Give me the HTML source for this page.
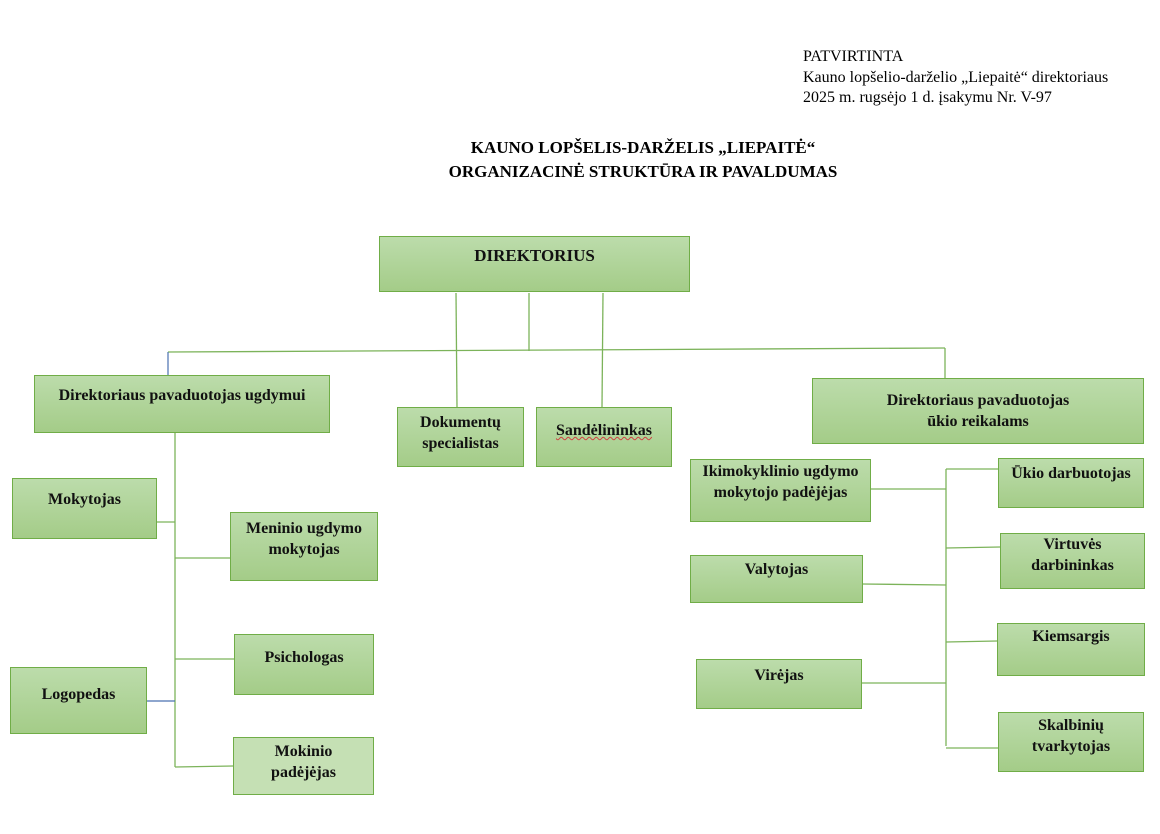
<!DOCTYPE html>
<html><head><meta charset="utf-8">
<style>
body{margin:0;width:1160px;height:834px;background:#fff;position:relative;overflow:hidden;font-family:"Liberation Serif",serif;}
.t{position:absolute;color:#000;font-size:16px;line-height:20.5px;}
.b{position:absolute;box-sizing:border-box;border:1px solid #70ad47;background:linear-gradient(#bcdcab,#a4cc88);text-align:center;font-weight:bold;font-size:16px;line-height:21px;color:#111;white-space:nowrap;}
svg{position:absolute;left:0;top:0;}
</style></head><body>
<div class="t" style="left:803px;top:47px;">PATVIRTINTA<br>Kauno lopšelio-darželio „Liepaitė“ direktoriaus<br>2025 m. rugsėjo 1 d. įsakymu Nr. V-97</div>
<div class="t" style="left:0;width:1286px;top:136px;text-align:center;font-weight:bold;font-size:17px;line-height:24px;">KAUNO LOPŠELIS-DARŽELIS „LIEPAITĖ“<br>ORGANIZACINĖ STRUKTŪRA IR PAVALDUMAS</div>
<svg width="1160" height="834">
<g stroke="#7cb35a" stroke-width="1.3" fill="none">
<line x1="168" y1="352" x2="945" y2="348"/>
<line x1="456" y1="293" x2="457" y2="407"/>
<line x1="529" y1="293" x2="529" y2="351"/>
<line x1="603" y1="293" x2="602" y2="407"/>
<line x1="945" y1="348" x2="945" y2="378"/>
<line x1="175" y1="423" x2="175" y2="767"/>
<line x1="156" y1="522" x2="175" y2="522"/>
<line x1="175" y1="558" x2="230" y2="558"/>
<line x1="175" y1="659" x2="234" y2="659"/>
<line x1="175" y1="767" x2="233" y2="766"/>
<line x1="946" y1="469" x2="946" y2="746"/>
<line x1="870" y1="489" x2="946" y2="489"/>
<line x1="862" y1="584" x2="946" y2="585"/>
<line x1="861" y1="683" x2="946" y2="683"/>
<line x1="946" y1="469" x2="998" y2="469"/>
<line x1="946" y1="548" x2="1000" y2="547"/>
<line x1="946" y1="642" x2="997" y2="641"/>
<line x1="946" y1="748" x2="998" y2="748"/>
</g>
<g stroke="#4a70b0" stroke-width="1.2"><line x1="168" y1="352" x2="168" y2="375"/><line x1="146" y1="701" x2="175" y2="701"/></g>
</svg>
<div class="b" style="left:379px;top:236px;width:311px;height:56px;padding-top:8px;font-size:17px;">DIREKTORIUS</div>
<div class="b" style="left:34px;top:375px;width:296px;height:58px;padding-top:9px;">Direktoriaus pavaduotojas ugdymui</div>
<div class="b" style="left:397px;top:407px;width:127px;height:60px;padding-top:4px;">Dokumentų<br>specialistas</div>
<div class="b" style="left:536px;top:407px;width:136px;height:60px;padding-top:12px;"><span style="text-decoration:underline wavy #d04040;text-decoration-thickness:1px;">Sandėlininkas</span></div>
<div class="b" style="left:812px;top:378px;width:332px;height:66px;padding-top:11px;">Direktoriaus pavaduotojas<br>ūkio reikalams</div>
<div class="b" style="left:12px;top:478px;width:145px;height:61px;padding-top:10px;">Mokytojas</div>
<div class="b" style="left:230px;top:512px;width:148px;height:69px;padding-top:5px;">Meninio ugdymo<br>mokytojas</div>
<div class="b" style="left:234px;top:634px;width:140px;height:61px;padding-top:12px;">Psichologas</div>
<div class="b" style="left:10px;top:667px;width:137px;height:67px;padding-top:16px;">Logopedas</div>
<div class="b" style="left:233px;top:737px;width:141px;height:58px;padding-top:3px;background:#c5e0b4;">Mokinio<br>padėjėjas</div>
<div class="b" style="left:690px;top:459px;width:181px;height:63px;padding-top:1px;">Ikimokyklinio ugdymo<br>mokytojo padėjėjas</div>
<div class="b" style="left:690px;top:555px;width:173px;height:48px;padding-top:3px;">Valytojas</div>
<div class="b" style="left:696px;top:659px;width:166px;height:50px;padding-top:5px;">Virėjas</div>
<div class="b" style="left:998px;top:458px;width:146px;height:50px;padding-top:4px;">Ūkio darbuotojas</div>
<div class="b" style="left:1000px;top:533px;width:145px;height:56px;padding-top:0px;">Virtuvės<br>darbininkas</div>
<div class="b" style="left:997px;top:623px;width:148px;height:53px;padding-top:2px;">Kiemsargis</div>
<div class="b" style="left:998px;top:712px;width:146px;height:60px;padding-top:2px;">Skalbinių<br>tvarkytojas</div>
</body></html>
